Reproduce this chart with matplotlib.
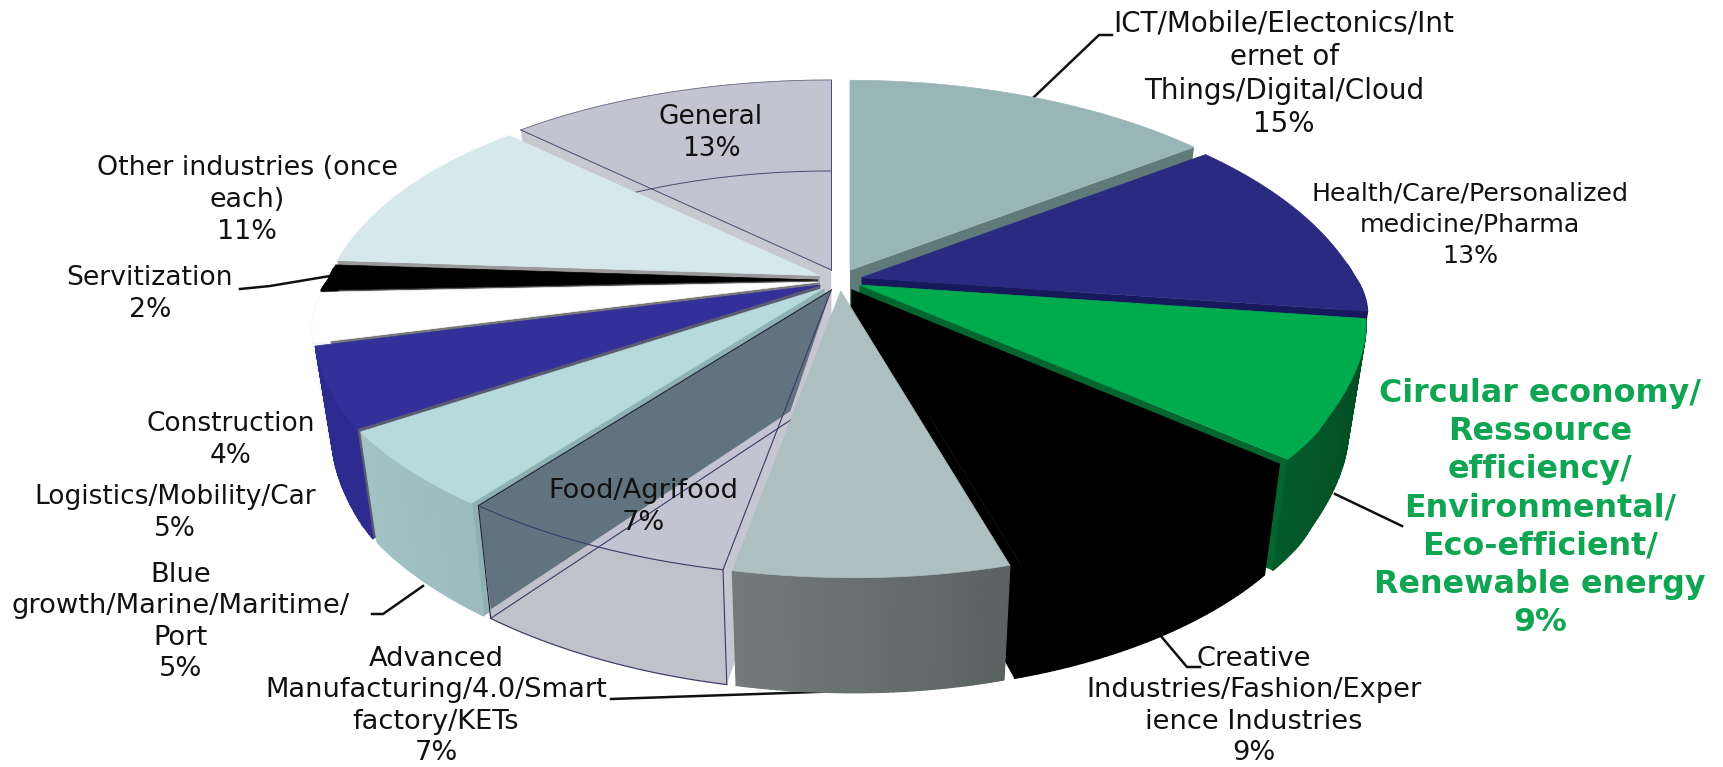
import numpy as np
import matplotlib
matplotlib.use("Agg")
import matplotlib.pyplot as plt
from matplotlib.patches import Polygon

# chart data, clockwise from 12 o'clock
names = ["ICT", "Health", "Circular", "Creative", "Advanced", "Food",
         "Blue", "Logistics", "Construction", "Servitization", "Other", "General"]
percent = [15, 13, 9, 9, 7, 7, 5, 5, 4, 2, 11, 13]

label_texts = [
    "ICT/Mobile/Electonics/Int\nernet of\nThings/Digital/Cloud\n15%",
    "Health/Care/Personalized\nmedicine/Pharma\n13%",
    "Circular economy/\nRessource\nefficiency/\nEnvironmental/\nEco-efficient/\nRenewable energy\n9%",
    "Creative\nIndustries/Fashion/Exper\nience Industries\n9%",
    "Advanced\nManufacturing/4.0/Smart\nfactory/KETs\n7%",
    "Food/Agrifood\n7%",
    "Blue\ngrowth/Marine/Maritime/\nPort\n5%",
    "Logistics/Mobility/Car\n5%",
    "Construction\n4%",
    "Servitization\n2%",
    "Other industries (once\neach)\n11%",
    "General\n13%",
]
label_x = [1284, 1470, 1540, 1254, 436, 643, 181, 175, 231, 150, 247, 711]
label_y = [74, 225, 508, 706, 706, 507, 622, 513, 440, 294, 200, 133]
label_size = [20, 18.2, 22.9, 19.6, 19.6, 19.6, 19.7, 19, 19, 19.2, 19.4, 19]

top_colors = ["#98b6b8", "#2a2a80", "#00ab4e", "#000000", "#aebfc0", "#c3c3d1",
              "#b7dadd", "#33309a", "#fefefe", "#000000", "#d6e8ea", "#c3c3d1"]
side_colors = [("#5f7a78", "#5f7a78"), ("#18185c", "#18185c"), ("#024a22", "#035a2a"),
               ("#000000", "#000000"), ("#5b6262", "#737a7a"), ("#c1c1cb", "#c1c1cb"),
               ("#9cbcc0", "#a2c2c6"), ("#2d2a90", "#2d2a90"), ("#f4f4f4", "#f4f4f4"),
               ("#000000", "#000000"), ("#d6e8ea", "#d6e8ea"), ("#c8c8d0", "#c8c8d0")]
face_colors = ["#5f7a78", "#18185c", "#05652f", "#000000", "#5b6262", "#c6c6d2",
               "#8eb2b2", "#5c5c70", "#77777c", "#555555", "#9a9a9a", "#c8c8d0"]

# pie geometry in pixels
cx, cy = 840, 280
rx_right, rx_left = 494, 490
ry_back, ry_front = 245, 205
p_back_y, p_front_y = 0.29, 0.285
p_right = (0.275, 0.22)
p_left = (0.22, 0.25)
ex, ey = 22, 11
depth_mid, depth_tilt = 103, 12
bottom_shrink = 0.965
front_shear = 14


def project(theta, mid, rad=1.0, lower=False):
    th = np.radians(theta)
    u = rad * np.sin(th)
    v = rad * np.cos(th)
    pr = np.where(v > 0, p_right[0], p_right[1])
    pl = np.where(v > 0, p_left[0], p_left[1])
    wx = 1 + np.where(u > 0, pr, pl) * v
    wy = 1 + np.where(v > 0, p_back_y, p_front_y) * v
    ry = np.where(v > 0, ry_back, ry_front)
    flat = 1 - 0.25 * np.clip(1 + v / 0.6, 0, 1) * (v < 0)
    x = np.where(u > 0, rx_right, rx_left) * u / wx + front_shear * np.clip((-v - 0.55) / 0.45, 0, 1)
    y = -ry * v / wy * flat
    if lower:
        x = x * bottom_shrink
        y = y + depth_mid - depth_tilt * v
    m = np.radians(mid)
    return x + cx + ex * np.sin(m), y + cy - ey * np.cos(m)


def mix(c1, c2, t):
    a = np.array(matplotlib.colors.to_rgb(c1))
    b = np.array(matplotlib.colors.to_rgb(c2))
    return a + (b - a) * t


def cut_face(theta, mid):
    x1, y1 = project(theta, mid, 0)
    x2, y2 = project(theta, mid)
    x3, y3 = project(theta, mid, 1, True)
    x4, y4 = project(theta, mid, 0, True)
    return [(x1, y1), (x2, y2), (x3, y3), (x4, y4)]


fig = plt.figure(figsize=(17.23, 7.67), dpi=100)
ax = fig.add_axes([0, 0, 1, 1])
ax.set_xlim(0, 1723)
ax.set_ylim(767, 0)
ax.axis("off")

edges = np.cumsum([0] + percent) * 3.6
order = sorted(range(len(percent)), key=lambda i: -np.cos(np.radians((edges[i] + edges[i + 1]) / 2)))

# leaders sit under the pie
leaders = [
    [(1034, 97), (1099, 35), (1112, 35)],
    [(240, 289), (270, 286), (330, 276)],
    [(1335, 494), (1402, 526)],
    [(1160, 635), (1187, 667), (1200, 667)],
    [(423, 586), (383, 614), (372, 614)],
    [(611, 699), (874, 690)],
]
for line in leaders:
    xs, ys = zip(*line)
    ax.plot(xs, ys, color="#111111", lw=1.8, zorder=1)

for z, i in enumerate(order):
    t1, t2 = edges[i], edges[i + 1]
    mid = (t1 + t2) / 2
    base = 2 + z
    name = names[i]
    # end faces that look towards the viewer
    if t2 < 180:
        ax.add_patch(Polygon(cut_face(t2, mid), fc=face_colors[i], ec="none", zorder=base))
    if t1 > 180:
        ax.add_patch(Polygon(cut_face(t1, mid), fc=face_colors[i], ec="none", zorder=base))
    # rim, split in strips for the shading
    steps = np.linspace(t1, t2, 41)
    for k in range(40):
        if np.cos(np.radians(steps[k])) > 0.05 and np.cos(np.radians(steps[k + 1])) > 0.05:
            continue
        tx, ty = project(steps[k:k + 2], mid)
        bx, by = project(steps[k:k + 2], mid, 1, True)
        col = mix(side_colors[i][0], side_colors[i][1], k / 39)
        ax.add_patch(Polygon(list(zip(tx, ty)) + list(zip(bx[::-1], by[::-1])),
                             fc=col, ec=col, lw=1.0, zorder=base))
    # top
    arc = np.linspace(t1, t2, 80)
    ax_, ay_ = project(arc, mid)
    ox, oy = project(t1, mid, 0)
    top = [(ox, oy)] + list(zip(ax_, ay_))
    ax.add_patch(Polygon(top, fc=top_colors[i], ec=top_colors[i], lw=0.5, zorder=base))

    if name == "General":
        # see-through slice: lower rim shows through the top
        bx, by = project(arc, mid, 1, True)
        ax.plot(bx, by, color="#4a4a70", lw=0.7, zorder=base)
        ax.plot(ax_, ay_, color="#6a6a88", lw=0.6, zorder=base)
        fx, fy = zip(*cut_face(t2, mid))
        ax.plot(fx[:2], fy[:2], color="#4a4a70", lw=0.7, zorder=base)
        ax.plot(*zip(*cut_face(t1, mid)[:2]), color="#4a4a70", lw=0.7, zorder=base)
    if name == "Food":
        # see-through slice: its far cut face shows as the dark panel
        panel = cut_face(t2, mid)
        px, py = zip(*panel)
        slate = [panel[0], panel[1], (panel[2][0], panel[2][1] - 9),
                 (panel[2][0] * 0.12 + panel[3][0] * 0.88, panel[2][1] * 0.12 + panel[3][1] * 0.88 - 9)]
        ax.add_patch(Polygon(slate, fc="#60737f", ec="none", zorder=base))
        ax.plot(px[:3], py[:3], color="#20203a", lw=0.8, zorder=base)
        ax.plot(px[2:], py[2:], color="#3a3a66", lw=0.8, zorder=base)
        bx, by = project(arc, mid, 1, True)
        ax.plot(bx, by, color="#3a3a66", lw=0.8, zorder=base)
        ax.plot(ax_, ay_, color="#3a3a66", lw=0.8, zorder=base)
        fx, fy = zip(*cut_face(t1, mid))
        ax.plot(fx[:3], fy[:3], color="#3a3a66", lw=0.8, zorder=base)

for i, txt in enumerate(label_texts):
    if names[i] == "Circular":
        ax.text(label_x[i], label_y[i], txt, ha="center", va="center", fontsize=label_size[i],
                fontweight="bold", color="#0fa552", linespacing=1.3, zorder=50)
    else:
        ax.text(label_x[i], label_y[i], txt, ha="center", va="center", fontsize=label_size[i],
                color="#111111", linespacing=25.0 / label_size[i], zorder=50)

fig.savefig("out.png", dpi=100, facecolor="white")
